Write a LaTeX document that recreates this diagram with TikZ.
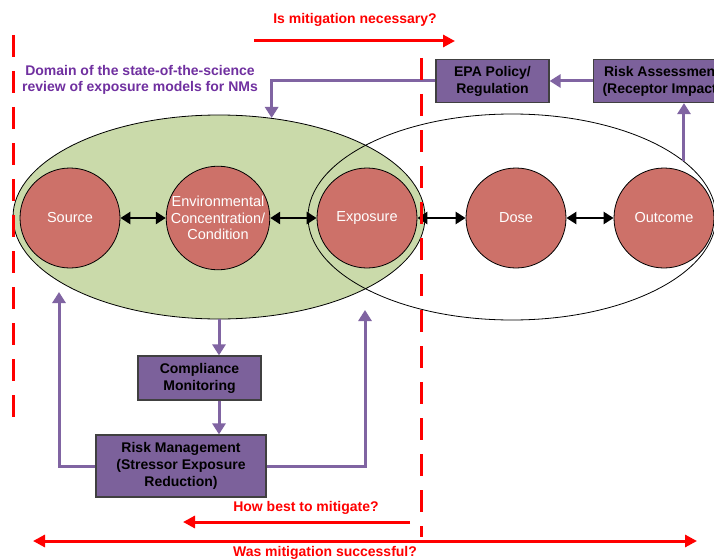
\documentclass[tikz,border=0pt]{standalone}
\usepackage{fontspec}
\setmainfont{Liberation Sans}
\usetikzlibrary{shapes.geometric,arrows.meta}
\definecolor{circfill}{RGB}{205,113,105}
\definecolor{greenfill}{RGB}{202,218,170}
\definecolor{boxpurple}{RGB}{124,97,155}
\definecolor{linepurple}{RGB}{128,100,162}
\definecolor{txtpurple}{RGB}{112,48,160}
\begin{document}
\begin{tikzpicture}[x=1pt,y=-1pt,
 circ/.style={circle,draw=black,line width=0.8pt,fill=circfill,minimum size=100pt,inner sep=0pt,text=white,font=\fontsize{14.5}{16.5}\selectfont,align=center},
 ell/.style={ellipse,draw=black,line width=0.8pt,inner sep=0pt},
 pbox/.style={rectangle,draw=black!75,line width=1.2pt,fill=boxpurple,font=\bfseries\fontsize{14}{17}\selectfont,align=center,inner sep=0pt},
 parr/.style={draw=linepurple,line width=3pt,-{Triangle[length=11pt,width=13pt]}},
 barr/.style={line width=2.5pt,{Triangle[length=10pt,width=12pt]}-{Triangle[length=10pt,width=12pt]}},
 rarr/.style={red,line width=3pt,-{Triangle[length=12pt,width=12pt]}},
 rdarr/.style={red,line width=3pt,{Triangle[length=12pt,width=12pt]}-{Triangle[length=12pt,width=12pt]}},
 rdash/.style={red,line width=3pt,dash pattern=on 22pt off 14pt},
 rlabel/.style={text=red,font=\bfseries\fontsize{14}{16}\selectfont,inner sep=0pt}
]
\clip (0,0) rectangle (714,559);
\fill[white] (0,0) rectangle (714,559);

% ellipses
\node[ell,fill=greenfill,minimum width=412pt,minimum height=204pt] (green) at (219,217) {};
\node[ell,minimum width=408pt,minimum height=206pt] (white) at (512,217) {};

% circles
\node[circ] (src) at (70,218) {Source};
\node[circ] (env) at (218,218) {Environmental\\Concentration/\\Condition};
\node[circ] (exp) at (367,218) {Exposure};
\node[circ] (dose) at (516,218) {Dose};
\node[circ] (out) at (664,218) {Outcome};

\draw[barr] (src) -- (env);
\draw[barr] (env) -- (exp);
\draw[barr] (exp) -- (dose);
\draw[barr] (dose) -- (out);

% purple boxes
\node[pbox,minimum width=113pt,minimum height=43pt] (epa) at (492.5,81) {EPA Policy/\\Regulation};
\node[pbox,minimum width=137pt,minimum height=43pt] (ra) at (662,81) {Risk Assessment\\(Receptor Impact)};
\node[pbox,minimum width=123pt,minimum height=44pt] (cm) at (199.5,378) {Compliance\\Monitoring};
\node[pbox,minimum width=170pt,minimum height=62pt] (rm) at (181,466) {Risk Management\\(Stressor Exposure\\Reduction)};

\node[text=txtpurple,font=\bfseries\fontsize{14}{16}\selectfont,align=center,inner sep=0pt] (dom) at (140,80) {Domain of the state-of-the-science\\review of exposure models for NMs};

% purple connectors
\draw[parr] (ra) -- (epa);
\draw[parr] (epa.west) -| (green.62);
\draw[parr] (white.18) -- (white.18 |- ra.south);
\draw[parr] (green.south) -- (green.south |- cm.north);
\draw[parr] (cm.south -| green.south) -- (rm.north -| green.south);
\coordinate (srcin) at (59,292);
\coordinate (expin) at (365,310);
\draw[parr] (rm.west) -| (srcin);
\draw[parr] (rm.east) -| (expin);

% red labels and arrows
\node[rlabel] (q1) at (355,20) {Is mitigation necessary?};
\coordinate (q1a) at (254,41);
\coordinate (q1b) at (455,41);
\draw[rarr] (q1a) -- (q1b);
\node[rlabel] (q2) at (306,508) {How best to mitigate?};
\coordinate (q2a) at (410,522);
\coordinate (q2b) at (183,522);
\draw[rarr] (q2a) -- (q2b);
\node[rlabel] (q3) at (325,553) {Was mitigation successful?};
\coordinate (q3a) at (33,541);
\coordinate (q3b) at (697,541);
\draw[rdarr] (q3a) -- (q3b);

% red dashed lines
\coordinate (d1a) at (13,35);
\coordinate (d1b) at (13,417);
\draw[rdash] (d1a) -- (d1b);
\coordinate (d2a) at (421,58);
\coordinate (d2b) at (421,537);
\draw[rdash] (d2a) -- (d2b);
\end{tikzpicture}
\end{document}
